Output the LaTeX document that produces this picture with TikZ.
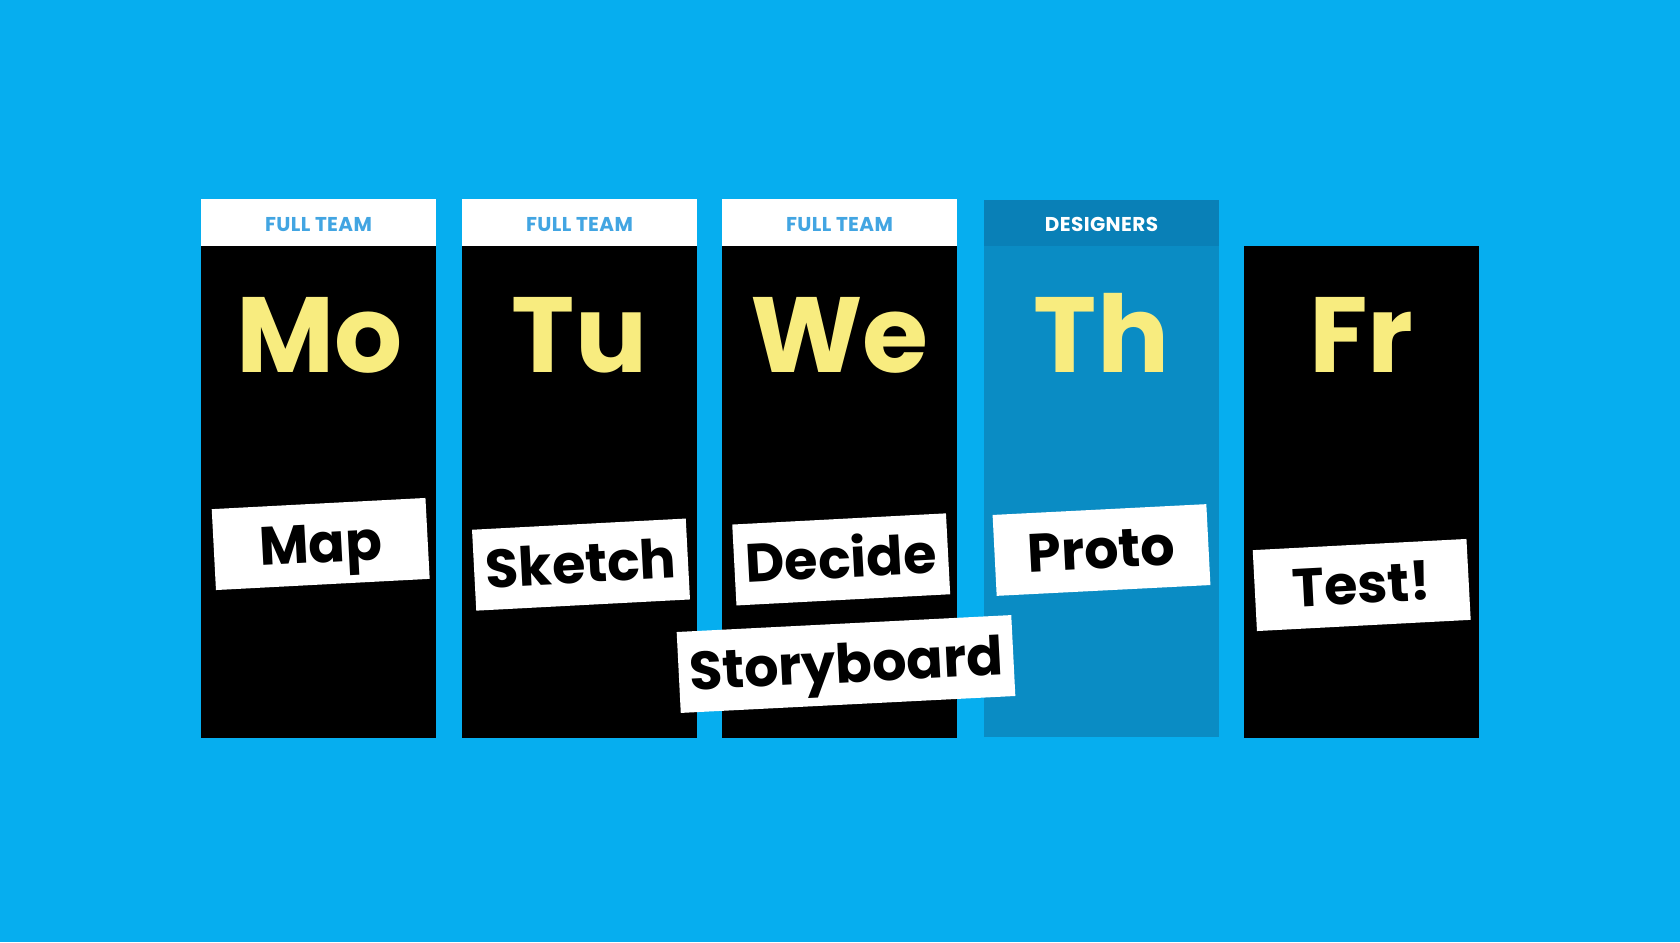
\documentclass[tikz,border=0pt]{standalone}
\usepackage{fontspec}
\setmainfont{Poppins}
\definecolor{bg}{HTML}{06AEEF}
\definecolor{thbody}{HTML}{0A8CC4}
\definecolor{thhead}{HTML}{0980B7}
\definecolor{dayyellow}{HTML}{F8EC7F}
\definecolor{teamblue}{HTML}{42A5E2}
\tikzset{
  colbody/.style={fill=black, draw=none},
  colhead/.style={fill=white, draw=none},
  headtext/.style={anchor=base, inner sep=0pt, font=\bfseries\fontsize{20}{22}\selectfont\addfontfeature{LetterSpace=2}, text=teamblue},
  daytext/.style={anchor=base, inner sep=0pt, font=\bfseries\fontsize{107}{115}\selectfont, text=dayyellow},
  card/.style={fill=white, draw=none, rotate=#1, minimum width=214pt, minimum height=81pt, inner sep=0pt,
    text height=37pt, text depth=0pt, font=\bfseries\fontsize{54}{58}\selectfont, text=black},
}
\begin{document}
\begin{tikzpicture}[x=1pt,y=-1pt]
\fill[bg] (0,0) rectangle (1680,942);
\useasboundingbox (0,0) rectangle (1680,942);
% columns
\fill[colhead] (201,199) rectangle (436,246);
\fill[colbody] (201,246) rectangle (436,738);
\fill[colhead] (462,199) rectangle (697,246);
\fill[colbody] (462,246) rectangle (697,738);
\fill[colhead] (722,199) rectangle (957,246);
\fill[colbody] (722,246) rectangle (957,738);
\fill[thhead] (984,200) rectangle (1219,246);
\fill[thbody] (984,246) rectangle (1219,737);
\fill[colbody] (1244,246) rectangle (1479,738);
% headers
\node[headtext] (h1) at (318.5,231) {FULL TEAM};
\node[headtext] (h2) at (579.5,231) {FULL TEAM};
\node[headtext] (h3) at (839.5,231) {FULL TEAM};
\node[headtext, text=white] (h4) at (1101.5,231) {DESIGNERS};
% days
\node[daytext] (d1) at (319.5,372) {Mo};
\node[daytext] (d2) at (579.5,372) {Tu};
\node[daytext] (d3) at (839.5,372) {We};
\node[daytext] (d4) at (1101.5,372) {Th};
\node[daytext] (d5) at (1361.5,372) {Fr};
% cards
\node[card=3] (c1) at (320.7,544) {Map};
\node[card=3] (c2) at (581,564.6) {Sketch};
\node[card=3] (c3) at (841.2,559.4) {Decide};
\node[card=2.9, minimum width=335pt] (c4) at (846,664) {Storyboard};
\node[card=2.9] (c5) at (1101.5,550) {Proto};
\node[card=3] (c6) at (1361.7,585) {Test!};
\end{tikzpicture}
\end{document}
